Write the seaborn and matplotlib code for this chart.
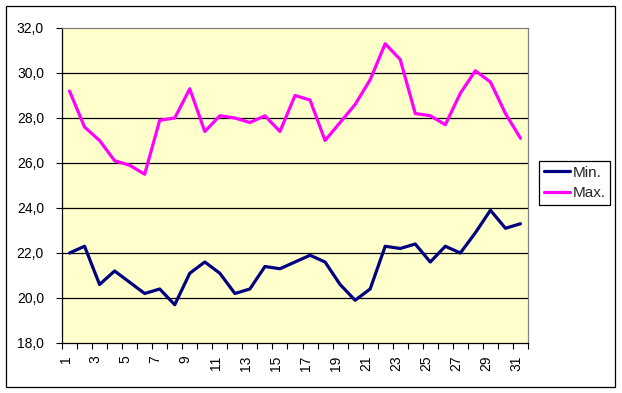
import matplotlib
matplotlib.use("Agg")
import matplotlib.pyplot as plt
import matplotlib.transforms as mtransforms
from matplotlib.patches import Rectangle
from matplotlib.lines import Line2D
from matplotlib.ticker import FixedLocator, FuncFormatter
import numpy as np
import pandas as pd
import seaborn as sns

days = list(range(1, 32))
min_vals = [22.0, 22.3, 20.6, 21.2, 20.7, 20.2, 20.4, 19.7, 21.1, 21.6,
            21.1, 20.2, 20.4, 21.4, 21.3, 21.6, 21.9, 21.6, 20.6, 19.9,
            20.4, 22.3, 22.2, 22.4, 21.6, 22.3, 22.0, 22.9, 23.9, 23.1, 23.3]
max_vals = [29.2, 27.6, 27.0, 26.1, 25.9, 25.5, 27.9, 28.0, 29.3, 27.4,
            28.1, 28.0, 27.8, 28.1, 27.4, 29.0, 28.8, 27.0, 27.8, 28.6,
            29.7, 31.3, 30.6, 28.2, 28.1, 27.7, 29.1, 30.1, 29.6, 28.2, 27.1]
series_names = ["Min.", "Max."]
y_ticks = [18.0, 20.0, 22.0, 24.0, 26.0, 28.0, 30.0, 32.0]
x_labels = [d for d in days if d % 2 == 1]

df = pd.DataFrame({
    "day": days * 2,
    "value": min_vals + max_vals,
    "series": [series_names[0]] * len(days) + [series_names[1]] * len(days),
})

sns.set_style("white")
plt.rcParams["font.family"] = ["Liberation Sans", "DejaVu Sans"]

W, H = 622, 393
fig = plt.figure(figsize=(W / 100, H / 100), dpi=100)
fig.patch.set_facecolor("white")

# outer chart border
fig.add_artist(Rectangle((5.5 / W, 1 - 386.5 / H), (614.5 - 5.5) / W, (386.5 - 5.5) / H,
                         transform=fig.transFigure, fill=False, edgecolor="black",
                         linewidth=0.9))

L, R, T, B = 62, 528, 28, 343
ax = fig.add_axes([L / W, 1 - B / H, (R - L) / W, (B - T) / H])
ax.set_facecolor("#FFFFCC")

sns.lineplot(data=df, x="day", y="value", hue="series",
             palette={"Min.": "#000080", "Max.": "#FF00FF"},
             linewidth=2.3, ax=ax, legend=False, zorder=3)

ax.set_xlim(0.5, 31.5)
ax.set_ylim(18, 32)
ax.set_xlabel("")
ax.set_ylabel("")

# y axis
ax.yaxis.set_major_locator(FixedLocator(y_ticks))
ax.yaxis.set_major_formatter(FuncFormatter(lambda v, p: f"{v:.1f}".replace(".", ",")))
ax.tick_params(axis="y", which="major", direction="out", length=4, width=0.8,
               color="black", labelsize=10, pad=9, labelcolor="black", left=True)
for yv in y_ticks[1:-1]:
    ax.axhline(yv, color="black", linewidth=0.9, zorder=1)

# x axis: ticks at category boundaries, labels at odd days
ax.xaxis.set_major_locator(FixedLocator([d + 0.5 for d in [0] + days]))
ax.xaxis.set_major_formatter(FuncFormatter(lambda v, p: ""))
ax.xaxis.set_minor_locator(FixedLocator(x_labels))
ax.xaxis.set_minor_formatter(FuncFormatter(lambda v, p: f"{int(round(v))}"))
ax.tick_params(axis="x", which="major", direction="out", length=4, width=0.8,
               color="black", bottom=True)
ax.tick_params(axis="x", which="minor", length=0, labelsize=10, pad=9,
               labelrotation=90, labelcolor="black", bottom=True)
offset = mtransforms.ScaledTranslation(-4 / 100, 0, fig.dpi_scale_trans)
for lab in ax.xaxis.get_minorticklabels():
    lab.set_transform(lab.get_transform() + offset)
    lab.set_verticalalignment("top")

for side in ["left", "bottom"]:
    ax.spines[side].set_color("black")
    ax.spines[side].set_linewidth(0.9)
for side in ["top", "right"]:
    ax.spines[side].set_color("#808080")
    ax.spines[side].set_linewidth(0.9)
    ax.spines[side].set_visible(True)

# legend
handles = [Line2D([0], [0], color="#000080", linewidth=2.3),
           Line2D([0], [0], color="#FF00FF", linewidth=2.3)]
leg = fig.legend(handles, series_names, loc="upper left",
                 bbox_to_anchor=(539 / W, 1 - 161 / H), bbox_transform=fig.transFigure,
                 frameon=True, fancybox=False, edgecolor="black", framealpha=1,
                 fontsize=11, handlelength=1.7, handletextpad=0.2,
                 labelspacing=0.45, borderpad=0.3, borderaxespad=0)
leg.get_frame().set_linewidth(0.9)

fig.savefig("out.png", dpi=100)
